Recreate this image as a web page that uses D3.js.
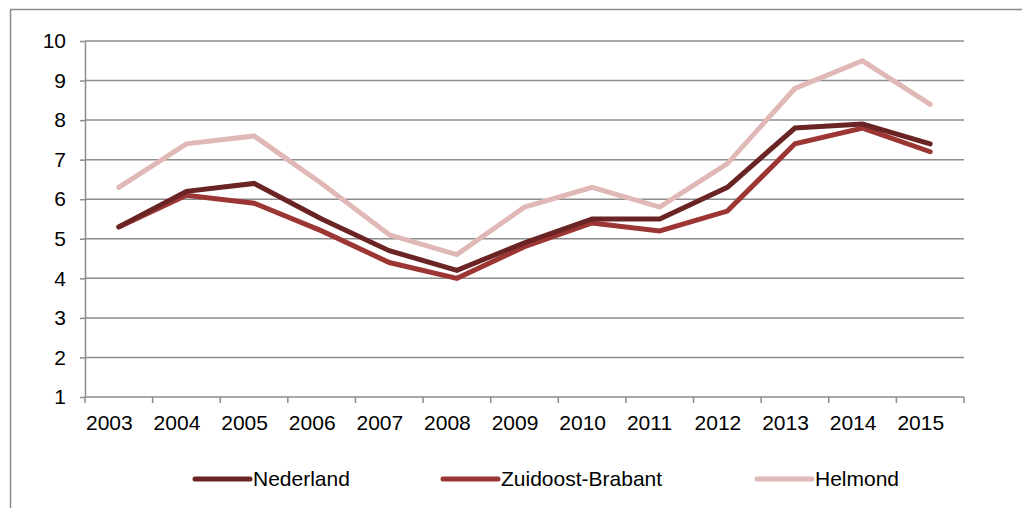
<!DOCTYPE html>
<html>
<head>
<meta charset="utf-8">
<script src="https://cdn.jsdelivr.net/npm/d3@7/dist/d3.min.js"></script>
<style>
  html, body { margin: 0; padding: 0; background: #fff; }
  svg text { font-family: "Liberation Sans", Arial, sans-serif; fill: #000; }
</style>
</head>
<body>
<svg id="chart" width="1022" height="508"></svg>
<script>
// data
const years = ["2003","2004","2005","2006","2007","2008","2009","2010","2011","2012","2013","2014","2015"];
const nederland = [5.3, 6.2, 6.4, 5.5, 4.7, 4.2, 4.9, 5.5, 5.5, 6.3, 7.8, 7.9, 7.4];
const zuidoostBrabant = [5.3, 6.1, 5.9, 5.2, 4.4, 4.0, 4.8, 5.4, 5.2, 5.7, 7.4, 7.8, 7.2];
const helmond = [6.3, 7.4, 7.6, 6.4, 5.1, 4.6, 5.8, 6.3, 5.8, 6.9, 8.8, 9.5, 8.4];
const yTicks = [1, 2, 3, 4, 5, 6, 7, 8, 9, 10];

const series = [
  { name: "Nederland", values: nederland, color: "#6b2424" },
  { name: "Zuidoost-Brabant", values: zuidoostBrabant, color: "#9c3634" },
  { name: "Helmond", values: helmond, color: "#e0b8b6" }
];

const svg = d3.select("#chart");

// outer frame (only top and left visible in the crop)
svg.append("path")
  .attr("d", "M10.5,520 L10.5,9.5 L1030,9.5")
  .attr("fill", "none")
  .attr("stroke", "#8a8a8a")
  .attr("stroke-width", 1.5);

const plotL = 85, plotR = 964, plotT = 41, plotB = 397;

const x = d3.scaleBand().domain(years).range([plotL, plotR]);
const y = d3.scaleLinear().domain([1, 10]).range([plotB, plotT]);

// gridlines
svg.append("g")
  .selectAll("line")
  .data(yTicks.slice(1))
  .join("line")
  .attr("x1", plotL).attr("x2", plotR)
  .attr("y1", d => y(d)).attr("y2", d => y(d))
  .attr("stroke", "#8c8c8c")
  .attr("stroke-width", 1.5);

// y axis
const yAxis = svg.append("g")
  .attr("transform", `translate(${plotL},0)`)
  .call(d3.axisLeft(y).tickValues(yTicks).tickSize(5).tickPadding(14).tickSizeOuter(0));
yAxis.select(".domain").attr("stroke", "#8c8c8c").attr("stroke-width", 1.5);
yAxis.selectAll(".tick line").attr("stroke", "#8c8c8c").attr("stroke-width", 1.5);
yAxis.selectAll("text").style("font-size", "21px").attr("fill", "#000");

// x axis: ticks on band boundaries
const xAxis = svg.append("g")
  .attr("transform", `translate(0,${plotB})`);
xAxis.append("line")
  .attr("x1", plotL).attr("x2", plotR)
  .attr("stroke", "#8c8c8c").attr("stroke-width", 1.5);
const bounds = years.map(d => x(d)).concat([plotR]);
xAxis.selectAll("line.tk")
  .data(bounds)
  .join("line")
  .attr("class", "tk")
  .attr("x1", d => d).attr("x2", d => d)
  .attr("y1", 0).attr("y2", 6)
  .attr("stroke", "#8c8c8c").attr("stroke-width", 1.5);
xAxis.selectAll("text")
  .data(years)
  .join("text")
  .attr("x", d => x(d) + 1)
  .attr("y", 33)
  .attr("text-anchor", "start")
  .style("font-size", "21px")
  .text(d => d);

// lines
const line = d3.line()
  .x((d, i) => x(years[i]) + x.bandwidth() / 2)
  .y(d => y(d));

svg.append("g")
  .selectAll("path")
  .data(series.slice().reverse())
  .join("path")
  .attr("d", d => line(d.values))
  .attr("fill", "none")
  .attr("stroke", d => d.color)
  .attr("stroke-width", 5)
  .attr("stroke-linecap", "round")
  .attr("stroke-linejoin", "miter");

// legend
const legendX = [195, 443, 757];
const legend = svg.append("g")
  .selectAll("g")
  .data(series)
  .join("g")
  .attr("transform", (d, i) => `translate(${legendX[i]},479)`);
legend.append("line")
  .attr("x1", 0).attr("x2", 55)
  .attr("stroke", d => d.color)
  .attr("stroke-width", 5)
  .attr("stroke-linecap", "round");
legend.append("text")
  .attr("x", 58)
  .attr("y", 7)
  .style("font-size", "21px")
  .text(d => d.name);
</script>
</body>
</html>
